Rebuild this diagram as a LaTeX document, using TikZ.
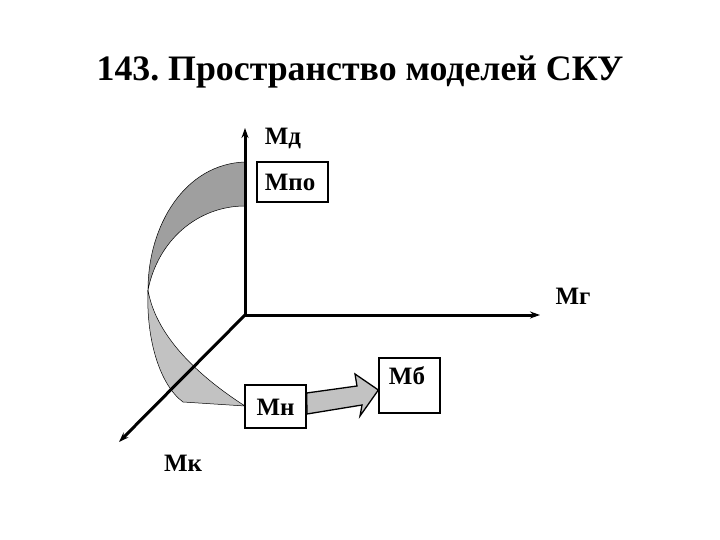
\documentclass[tikz,border=0pt]{standalone}
\usepackage{fontspec}
\setmainfont{Liberation Serif}[BoldFont={Liberation Serif Bold}]
\usetikzlibrary{arrows.meta}
\begin{document}
\frenchspacing
\begin{tikzpicture}[x=1pt,y=-1pt,
  axis/.style={line width=3pt,-{Stealth[length=10pt,width=7pt]}},
  lbl/.style={font=\bfseries\fontsize{25}{28}\selectfont,inner sep=0pt},
  box/.style={draw,line width=1.3pt,fill=white,inner sep=0pt},
  ribbon/.style={draw=black,line width=0.5pt}]
\useasboundingbox (0,0) rectangle (720,540);
\node[font=\bfseries\fontsize{35.8}{40}\selectfont] (title) at (360,72) {143. Пространство моделей СКУ};
% ribbon
\fill[ribbon,fill=gray!75] (245,162) .. controls (185,164) and (148,225) .. (148,290)
   .. controls (158,240) and (198,206) .. (245,206) -- cycle;
\fill[ribbon,fill=gray!48] (148,290) .. controls (146,340) and (160,385) .. (183,402)
   -- (245,406) .. controls (192,372) and (155,332) .. (148,290) -- cycle;
% axes
\coordinate (o) at (245,315);
\coordinate (yend) at (245,128);
\coordinate (xend) at (540,315);
\coordinate (zend) at (119,442);
\draw[axis] (o) -- (yend);
\draw[axis] (o) -- (xend);
\draw[axis] (o) -- (zend);
\node[lbl] (md) at (283,138) {Мд};
\node[lbl] (mg) at (573,296) {Мг};
\node[lbl] (mk) at (183,463) {Мк};
\node[box,minimum width=71pt,minimum height=40pt] (mpo) at (292.5,182) {};
\node[lbl] at (290,182) {Мпо};
\node[box,minimum width=61pt,minimum height=43pt] (mn) at (275.5,406.5) {};
\node[lbl] at (275.5,407) {Мн};
\node[box,minimum width=61pt,minimum height=55pt] (mb) at (409.5,385.5) {};
\node[lbl] at (407,376) {Мб};
% block arrow
\filldraw[fill=gray!48,draw=black,line width=1.3pt]
  (mn.east |- 0,393) -- (357,386) -- (355,374) -- (mb.west |- 0,390)
  -- (360,416) -- (362,405) -- (307,414) -- cycle;
\end{tikzpicture}
\end{document}
